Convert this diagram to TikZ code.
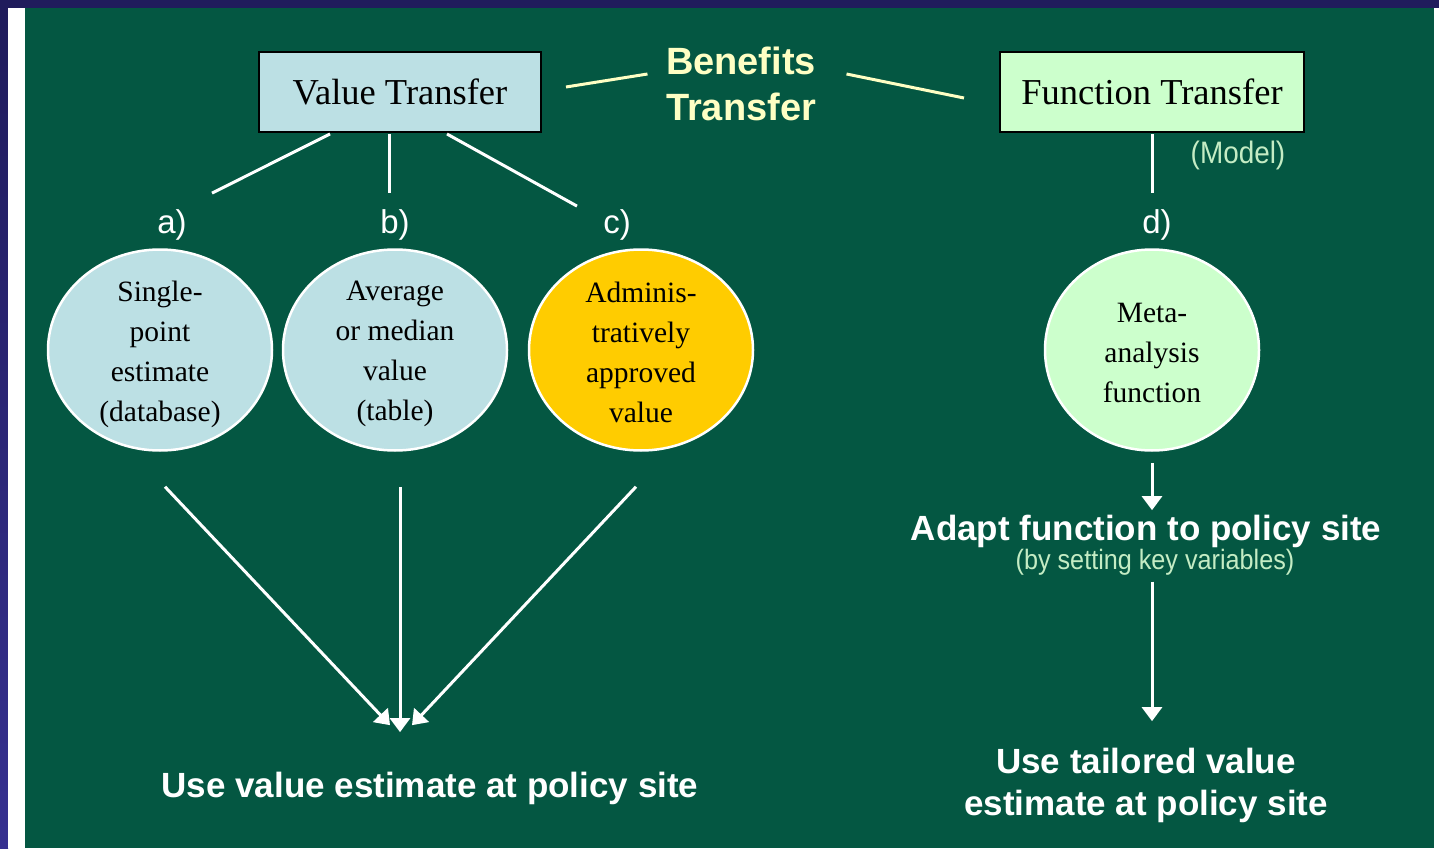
\documentclass[tikz,border=0pt]{standalone}
\usepackage{fontspec}
\setmainfont{Liberation Serif}
\setsansfont{Liberation Sans}
\newfontfamily\narrowsans{Liberation Sans}[FakeStretch=0.9]
\usetikzlibrary{arrows.meta,shapes.geometric,calc}

\definecolor{navy}{RGB}{32,28,92}
\definecolor{navylow}{RGB}{54,48,144}
\definecolor{slidegreen}{RGB}{4,87,66}
\definecolor{lightblue}{RGB}{188,224,228}
\definecolor{lightgreen}{RGB}{204,255,204}
\definecolor{gold}{RGB}{255,204,0}
\definecolor{cream}{RGB}{255,255,196}
\definecolor{palegreen}{RGB}{196,236,196}

\begin{document}
\begin{tikzpicture}[x=1pt,y=-1pt,
  box/.style={draw=black,line width=2pt,minimum width=282pt,minimum height=80pt,
    inner sep=0pt,font=\fontsize{36.5}{40}\selectfont},
  oval/.style={ellipse,draw=white,line width=2.5pt,minimum width=224pt,
    minimum height=201pt,inner sep=0pt},
  ovaltext/.style={align=center,text=black,font=\fontsize{29.5}{40}\selectfont},
  link/.style={draw=white,line width=3pt},
  blink/.style={draw=cream,line width=3pt},
  arr/.style={draw=white,line width=3pt,-{Triangle[length=14pt,width=20pt]}},
  tag/.style={text=white,font=\sffamily\fontsize{33}{36}\selectfont},
  bigsans/.style={text=white,align=center,font=\sffamily\bfseries\fontsize{35}{42}\selectfont},
  note/.style={text=palegreen,font=\narrowsans\fontsize{31}{34}\selectfont},
]
\useasboundingbox (0,0) rectangle (1439,848);

% slide frame and background
\fill[navy] (0,0) rectangle (1439,848);
\shade[top color=navy,bottom color=navylow] (0,8) rectangle (8,848);
\fill[white] (8,8) rectangle (25,848);
\fill[slidegreen] (25,8) rectangle (1434,848);
\fill[white] (1434,8) rectangle (1439,848);

% header boxes
\node[box,fill=lightblue] (vt) at (400,92) {Value Transfer};
\node[box,fill=lightgreen,minimum width=304pt] (ft) at (1152,92) {Function Transfer};
\node[text=cream,align=center,font=\sffamily\bfseries\fontsize{38}{46}\selectfont]
  (bt) at (741,84) {Benefits\\Transfer};
\node[note] (model) at (1238,155) {(Model)};

\draw[blink] ($(vt.east)+(24,-5)$) -- ($(bt.west)+(-15,-10)$);
\draw[blink] ($(bt.east)+(27,-10)$) -- ($(ft.west)+(-35,6)$);

% branch labels
\node[tag] (la) at (172,225) {a)};
\node[tag] (lb) at (395,225) {b)};
\node[tag] (lc) at (617,225) {c)};
\node[tag] (ld) at (1157,225) {d)};

\draw[link] ($(vt.south)+(-70,1)$) -- ($(la.north)+(40,-13)$);
\draw[link] ($(vt.south)+(-11,1)$) -- ($(lb.north)+(-6,-13)$);
\draw[link] ($(vt.south)+(47,1)$) -- ($(lc.north)+(-40,0)$);
\draw[link] ($(ft.south)+(0,1)$) -- ($(ld.north)+(-5,-13)$);

% estimate ovals
\node[oval,fill=lightblue] (ea) at (160,350) {};
\node[oval,fill=lightblue] (eb) at (395,350) {};
\node[oval,fill=gold] (ec) at (641,350) {};
\node[oval,fill=lightgreen,minimum width=214pt] (ed) at (1152,350) {};

\node[ovaltext] (ta) at (160,354) {Single-\\point\\estimate\\(database)};
\node[ovaltext] (tb) at (395,354) {Average\\or median\\value\\(table)};
\node[ovaltext] (tc) at (641,352) {Adminis-\\tratively\\approved\\value};
\node[ovaltext] (td) at (1152,353) {Meta-\\analysis\\function};

% outcomes
\node[bigsans] (uv) at (430,788) {Use value estimate at policy site};
\node[bigsans] (ad) at (1146,531) {Adapt function to policy site};
\node[note,font=\narrowsans\fontsize{28}{32}\selectfont] (ad2) at (1155,562) {(by setting key variables)};
\node[bigsans] (ut) at (1146,785) {Use tailored value\\estimate at policy site};

\draw[arr] ($(ea.south)+(5,35)$) -- ($(uv.north)+(-40,-43)$);
\draw[arr] ($(eb.south)+(5,35)$) -- ($(uv.north)+(-30,-36)$);
\draw[arr] ($(ec.south)+(-5,35)$) -- ($(uv.north)+(-18,-43)$);

\draw[arr] ($(ed.south)+(0,11)$) -- ($(ed.south |- ad.north)+(0,-1)$);
\draw[arr] ($(ed.south |- ad2.south)+(0,3)$) -- ($(ed.south |- ut.north)+(0,-23)$);
\end{tikzpicture}
\end{document}
